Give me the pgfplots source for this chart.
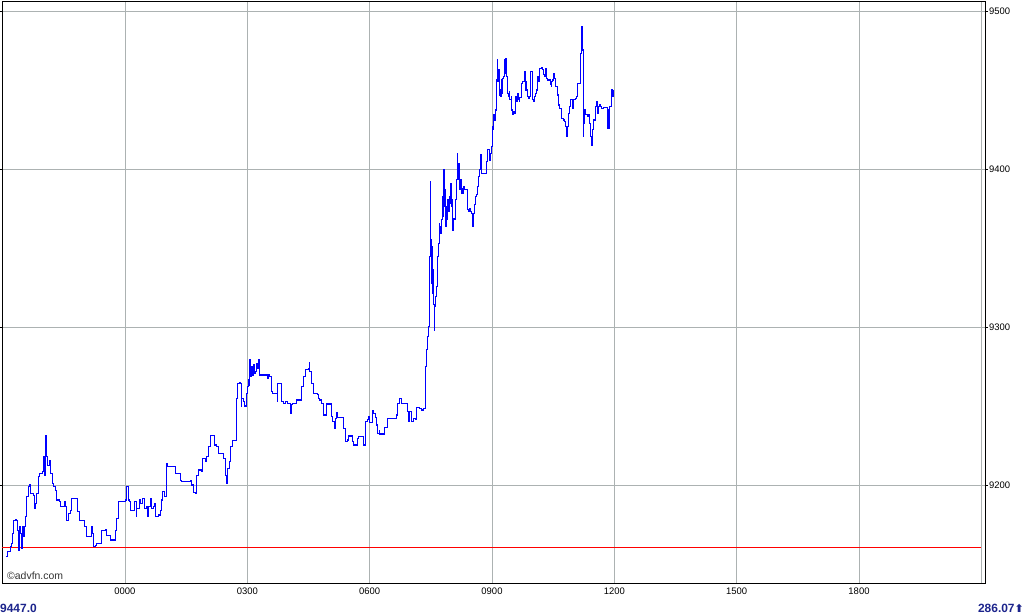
\documentclass[border=0pt]{standalone}
\usepackage{fontspec}
\setmainfont{Liberation Sans}
\newfontfamily\symfont{DejaVu Sans}
\usepackage{pgfplots}
\pgfplotsset{compat=1.18}
\definecolor{navy}{RGB}{28,36,140}
\definecolor{gridgray}{RGB}{172,178,178}
\begin{document}
\begin{tikzpicture}
\begin{axis}[
  at={(0,0)}, anchor=south west,
  scale only axis, width=983bp, height=582bp,
  xmin=-3.016, xmax=21.09, ymin=9138, ymax=9506.3,
  axis line style={black, line width=0.8bp},
  xtick={0,3,...,21},
  xticklabels={0000,0300,0600,0900,1200,1500,1800,{}},
  ytick={9200,9300,9400,9500},
  yticklabels={9200,9300,9400,9500},
  yticklabel pos=right,
  grid=major, grid style={color=gridgray, line width=0.7bp},
  tick align=outside,
  major tick length=3bp,
  x tick style={draw=none},
  y tick style={black, line width=0.7bp},
  tick label style={font=\fontsize{9.5}{10}\selectfont, inner sep=1bp},
  x tick label style={yshift=-1bp},
  clip=true,
]
\addplot[red, line width=0.8bp] coordinates {(-3.016,9160.8) (21,9160.8)};
\addplot[const plot, color={rgb,255:red,0;green,0;blue,255}, line width=1.1bp] coordinates {
(-2.91,9154.6) (-2.88,9157.8) (-2.83,9157.8) (-2.815,9160.9) (-2.774,9163.0) (-2.75,9169.4)
(-2.733,9177.8) (-2.692,9178.2) (-2.651,9177.8) (-2.635,9171.5) (-2.611,9158.8) (-2.586,9173.6)
(-2.553,9169.4) (-2.537,9159.9) (-2.521,9173.6) (-2.488,9167.3) (-2.455,9173.6) (-2.439,9179.9)
(-2.406,9192.6) (-2.374,9198.9) (-2.341,9200.0) (-2.325,9194.7) (-2.243,9193.6) (-2.227,9185.2)
(-2.194,9188.4) (-2.161,9194.7) (-2.129,9205.2) (-2.096,9207.3) (-2.063,9207.3) (-2.031,9208.4)
(-1.998,9217.9) (-1.965,9206.3) (-1.949,9231.6) (-1.933,9217.9) (-1.9,9212.6) (-1.851,9215.8)
(-1.818,9207.3) (-1.785,9201.0) (-1.753,9198.9) (-1.712,9196.8) (-1.671,9190.5) (-1.606,9189.4)
(-1.589,9186.2) (-1.524,9186.2) (-1.491,9189.4) (-1.459,9186.2) (-1.442,9177.8) (-1.41,9177.8)
(-1.377,9182.0) (-1.344,9184.1) (-1.312,9191.5) (-1.181,9191.5) (-1.165,9183.1) (-1.132,9183.1)
(-1.116,9177.8) (-1.017,9177.8) (-1.001,9173.6) (-0.952,9173.6) (-0.936,9167.3) (-0.813,9173.6)
(-0.789,9169.4) (-0.772,9160.9) (-0.732,9162.0) (-0.691,9163.0) (-0.609,9163.0) (-0.568,9171.5)
(-0.486,9171.9) (-0.462,9168.3) (-0.364,9167.3) (-0.348,9165.2) (-0.241,9171.5) (-0.217,9178.9)
(-0.17,9179.5) (-0.16,9189.4) (-0.021,9189.4) (0.004,9190.5) (0.028,9197.9) (0.045,9198.9)
(0.085,9190.5) (0.11,9189.4) (0.143,9184.1) (0.192,9184.1) (0.224,9189.4) (0.273,9179.9)
(0.29,9185.2) (0.355,9190.5) (0.388,9188.4) (0.437,9191.5) (0.469,9191.5) (0.486,9185.2)
(0.535,9186.2) (0.551,9179.9) (0.584,9186.2) (0.633,9191.5) (0.657,9185.2) (0.698,9186.2)
(0.731,9188.4) (0.747,9179.9) (0.829,9181.0) (0.862,9184.1) (0.894,9190.5) (0.927,9195.7)
(0.976,9192.6) (1.009,9213.7) (1.041,9211.6) (1.188,9211.6) (1.229,9207.3) (1.311,9207.3)
(1.352,9203.1) (1.393,9202.1) (1.597,9203.1) (1.638,9200.0) (1.679,9195.1) (1.719,9194.7)
(1.744,9206.3) (1.801,9209.5) (1.883,9208.4) (1.907,9216.8) (1.965,9214.7) (2.005,9217.9)
(2.046,9224.2) (2.103,9231.6) (2.169,9231.6) (2.193,9225.3) (2.25,9224.2) (2.291,9220.0)
(2.373,9220.0) (2.414,9216.8) (2.455,9206.3) (2.479,9201.0) (2.512,9210.5) (2.561,9214.7)
(2.594,9224.2) (2.643,9228.4)
(2.737,9254.9) (2.769,9264.4) (2.802,9264.8) (2.835,9264.4) (2.851,9249.6) (2.867,9254.9)
(2.9,9252.8) (2.925,9249.6) (2.965,9250.0) (2.982,9258.0) (3.014,9262.3) (3.031,9266.5)
(3.047,9263.3) (3.063,9279.1) (3.08,9268.6) (3.104,9274.9) (3.129,9269.6) (3.145,9276.0)
(3.17,9270.7) (3.194,9271.8) (3.227,9277.0) (3.243,9273.9) (3.268,9279.6) (3.292,9270.7)
(3.309,9269.6) (3.472,9269.6) (3.488,9267.5) (3.521,9269.6) (3.554,9268.6) (3.586,9259.1)
(3.619,9258.0) (3.717,9258.0) (3.733,9252.8) (3.75,9264.4) (3.84,9264.4) (3.848,9252.8)
(3.88,9251.7) (3.946,9252.8) (3.995,9251.7) (4.028,9251.7) (4.06,9245.0) (4.077,9250.7)
(4.109,9251.7) (4.175,9251.7) (4.207,9253.8) (4.289,9253.8) (4.322,9262.3) (4.371,9268.6)
(4.42,9273.2) (4.493,9273.9) (4.518,9277.5) (4.534,9271.8) (4.567,9270.7) (4.583,9264.4)
(4.616,9258.0) (4.714,9257.0) (4.738,9254.9) (4.779,9253.8) (4.828,9251.7) (4.861,9244.3)
(4.943,9244.3) (4.95,9251.3) (5.041,9251.3) (5.065,9243.3) (5.09,9240.1) (5.13,9235.9)
(5.155,9242.2) (5.188,9245.8) (5.204,9242.9) (5.335,9242.9) (5.367,9235.9) (5.4,9234.8)
(5.416,9227.5) (5.465,9228.5) (5.482,9231.0) (5.555,9231.0) (5.572,9227.5) (5.612,9225.3)
(5.678,9225.3) (5.694,9229.6) (5.727,9230.6) (5.841,9230.6) (5.858,9225.3) (5.89,9231.7)
(5.907,9240.1) (5.939,9241.2) (5.972,9243.3) (5.988,9239.5) (6.037,9239.5) (6.07,9247.1)
(6.103,9245.4) (6.135,9242.9) (6.168,9238.0) (6.193,9232.7) (6.233,9234.4) (6.25,9232.3)
(6.348,9232.3) (6.372,9236.5) (6.413,9236.5) (6.43,9242.2) (6.617,9242.2) (6.658,9244.3)
(6.691,9251.7) (6.74,9254.9) (6.773,9251.7) (6.903,9251.7) (6.92,9246.4) (6.944,9240.1)
(6.985,9246.4) (7.018,9240.1) (7.067,9242.2) (7.116,9241.2) (7.148,9249.0) (7.23,9248.6)
(7.279,9247.5) (7.328,9248.6) (7.361,9255.9)
(7.377,9274.9) (7.394,9285.5) (7.418,9293.9) (7.434,9300.3) (7.459,9308.7) (7.475,9344.6)
(7.483,9365.7) (7.492,9392.0) (7.5,9355.1) (7.516,9327.7) (7.524,9350.9) (7.541,9321.4)
(7.557,9336.1) (7.573,9314.0) (7.581,9298.1) (7.598,9312.9) (7.622,9319.2) (7.639,9325.6)
(7.655,9334.0) (7.671,9344.6) (7.688,9353.0) (7.704,9365.7) (7.72,9359.3) (7.737,9363.5)
(7.753,9359.3) (7.769,9367.8) (7.786,9382.5) (7.802,9369.9) (7.818,9399.4) (7.835,9376.2)
(7.851,9386.8) (7.867,9363.5) (7.884,9376.2) (7.9,9367.8) (7.916,9380.4) (7.933,9373.0)
(7.949,9382.5) (7.965,9378.3) (7.982,9391.0) (7.998,9376.2) (8.014,9380.4) (8.031,9361.4)
(8.047,9368.8) (8.072,9367.8) (8.096,9376.2) (8.113,9380.4) (8.129,9393.1) (8.145,9410.0)
(8.162,9393.1) (8.178,9403.6) (8.194,9396.2) (8.211,9386.8) (8.227,9393.1) (8.243,9386.8)
(8.26,9384.6) (8.276,9387.8) (8.292,9384.6) (8.309,9388.9) (8.325,9386.8) (8.374,9386.8)
(8.39,9381.5) (8.407,9374.1) (8.423,9373.0) (8.456,9375.2) (8.472,9373.0) (8.505,9372.0)
(8.521,9363.5) (8.537,9369.9) (8.554,9372.0) (8.57,9377.3) (8.586,9382.5) (8.619,9383.6)
(8.652,9388.9) (8.668,9395.2) (8.701,9399.4) (8.717,9408.9) (8.733,9399.4) (8.75,9397.3)
(8.848,9397.3) (8.864,9404.7) (8.897,9412.1)
(8.946,9405.7) (8.971,9409.9) (8.995,9414.1) (9.011,9426.8) (9.028,9424.7) (9.044,9434.2)
(9.06,9431.0) (9.077,9437.3) (9.093,9437.3) (9.109,9456.3) (9.126,9469.0) (9.142,9455.3)
(9.159,9462.7) (9.175,9446.8) (9.191,9450.0) (9.208,9445.8) (9.224,9456.3) (9.24,9447.9)
(9.257,9457.4) (9.289,9458.4) (9.306,9469.0) (9.322,9460.5) (9.338,9470.0) (9.355,9458.4)
(9.371,9457.4) (9.387,9447.9) (9.404,9445.8) (9.42,9448.9) (9.436,9443.7) (9.469,9445.8)
(9.485,9437.3) (9.502,9434.2) (9.518,9436.3) (9.551,9435.2) (9.567,9441.6) (9.583,9445.8)
(9.6,9442.6) (9.616,9447.9) (9.649,9443.7) (9.665,9442.6) (9.681,9445.4) (9.698,9445.4)
(9.714,9450.0) (9.73,9454.2) (9.747,9455.3) (9.779,9455.3) (9.796,9461.6) (9.812,9450.0)
(9.828,9455.3) (9.845,9450.0) (9.877,9445.8) (9.894,9444.7) (9.926,9445.8) (9.943,9461.6)
(9.975,9461.6) (9.992,9443.7) (10.024,9442.6) (10.041,9445.8) (10.057,9447.9) (10.09,9450.0)
(10.106,9455.3) (10.123,9458.4) (10.139,9455.3) (10.155,9460.5) (10.172,9463.7) (10.204,9464.1)
(10.237,9463.1) (10.253,9459.5) (10.286,9458.4) (10.319,9463.7) (10.335,9457.4) (10.368,9456.3)
(10.4,9456.7) (10.433,9453.2) (10.449,9452.1) (10.466,9455.3) (10.482,9456.3) (10.498,9460.5)
(10.531,9457.4) (10.564,9452.1) (10.596,9446.8) (10.629,9440.5) (10.662,9438.4) (10.694,9437.3)
(10.711,9432.1) (10.743,9431.0) (10.776,9430.0) (10.792,9426.8) (10.809,9426.8) (10.825,9420.5)
(10.858,9426.8) (10.874,9435.2) (10.907,9439.4) (10.923,9444.1) (10.956,9443.7) (10.972,9438.4)
(10.989,9440.5) (11.005,9443.7) (11.038,9444.7) (11.07,9445.8) (11.087,9454.2) (11.152,9454.2)
(11.168,9473.2) (11.185,9485.9) (11.201,9490.1) (11.217,9475.3) (11.234,9420.5) (11.25,9428.9)
(11.266,9437.3) (11.283,9434.2) (11.299,9434.2) (11.332,9433.1) (11.364,9434.2) (11.397,9428.9)
(11.413,9420.5) (11.446,9415.2) (11.462,9424.7) (11.495,9431.0) (11.528,9433.1) (11.544,9439.4)
(11.56,9442.6) (11.577,9439.4) (11.593,9435.2) (11.609,9439.4) (11.626,9440.5) (11.658,9439.4)
(11.691,9438.4) (11.724,9439.0) (11.806,9439.0) (11.822,9425.7) (11.838,9437.3) (11.854,9425.7)
(11.871,9435.2) (11.887,9439.4) (11.92,9442.6) (11.936,9450.0) (11.953,9445.8) (11.969,9450.0)
};
\end{axis}
\node[anchor=base west, inner sep=0, text=black!80, font=\fontsize{10.5}{11}\selectfont] at (5bp,4bp) {©advfn.com};
\node[anchor=base west, inner sep=0, text=navy, font=\bfseries\fontsize{12}{13}\selectfont] at (-2bp,-29bp) {9447.0};
\node[anchor=base east, inner sep=0, text=navy, font=\bfseries\fontsize{12}{13}\selectfont] at (1022bp,-29bp) {286.07{\symfont\fontsize{11}{12}\selectfont ⬆}};
\pgfresetboundingbox
\path[use as bounding box] (-2bp,-31bp) rectangle (1022bp,583bp);
\end{tikzpicture}
\end{document}
